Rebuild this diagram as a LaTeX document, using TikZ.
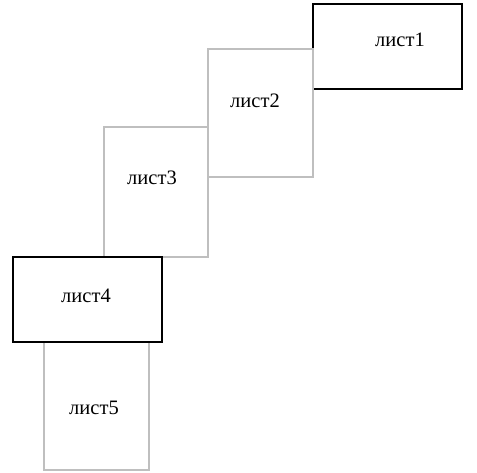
\documentclass[tikz,border=0pt]{standalone}
\usepackage{fontspec}
\setmainfont{Liberation Serif}
\usepackage{tikz}

\tikzset{
  sheet/.style={draw, anchor=north west, inner sep=0pt, outer sep=0pt},
  sheetblack/.style={sheet, line width=1.5pt, draw=black},
  sheetgray/.style={sheet, line width=1.2pt, draw=black!25},
  sheetlabel/.style={font=\fontsize{20.5}{24}\selectfont, inner sep=0pt}
}

\begin{document}
\begin{tikzpicture}[x=1pt,y=-1pt]
\useasboundingbox (0,0) rectangle (477,472);

\node [sheetblack, minimum width=149pt, minimum height=85pt] (list1) at (313,4) {};
\node [sheetgray, minimum width=105pt, minimum height=128pt] (list2) at (208,49) {};
\node [sheetgray, minimum width=104pt, minimum height=130pt] (list3) at (104,127) {};
\node [sheetgray, minimum width=105pt, minimum height=128pt] (list5) at (44,342) {};
\node [sheetblack, minimum width=149pt, minimum height=85pt] (list4) at (13,257) {};

\node [sheetlabel] (lab1) at (400,40) {лист1};
\node [sheetlabel] (lab2) at (255,101) {лист2};
\node [sheetlabel] (lab3) at (152,178) {лист3};
\node [sheetlabel] (lab4) at (86,296) {лист4};
\node [sheetlabel] (lab5) at (94,408) {лист5};

\end{tikzpicture}
\end{document}
